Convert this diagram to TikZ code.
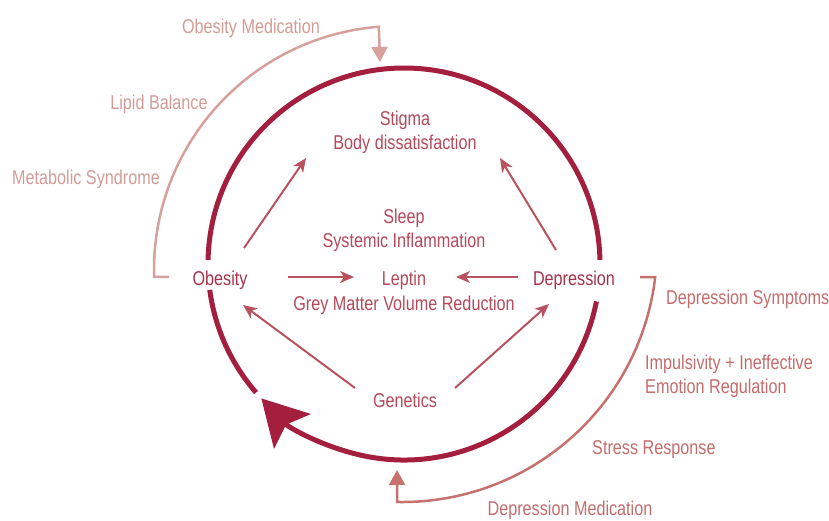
\documentclass[tikz,border=0pt]{standalone}
\usepackage{fontspec}
\setmainfont{Liberation Sans}[FakeStretch=0.81]
\usetikzlibrary{arrows.meta,calc}
\definecolor{ring}{HTML}{A31F3D}
\definecolor{maintxt}{HTML}{A8304A}
\definecolor{innertxt}{HTML}{B5485A}
\definecolor{innerarr}{HTML}{B8525E}
\definecolor{leftout}{HTML}{D6A19D}
\definecolor{lefttxt}{HTML}{D39B97}
\definecolor{rightout}{HTML}{C7716F}
\definecolor{righttxt}{HTML}{C46C6C}
\tikzset{
  lbl/.style={inner sep=0pt, font=\fontsize{20}{24}\selectfont, align=center},
  mainlbl/.style={lbl, text=maintxt},
  innerlbl/.style={lbl, text=innertxt},
  leftlbl/.style={lbl, text=lefttxt},
  rightlbl/.style={lbl, text=righttxt, align=left},
  arr/.style={draw=innerarr, line width=2pt, -{Stealth[length=14pt,width=12pt,inset=4pt]}},
  ringline/.style={draw=ring, line width=5pt},
  outarrL/.style={draw=leftout, line width=2.5pt, -{Triangle[length=15pt,width=16pt]}},
  outarrR/.style={draw=rightout, line width=2.5pt, -{Triangle[length=15pt,width=16pt]}},
}
\begin{document}
\begin{tikzpicture}[x=1pt,y=1pt]
\useasboundingbox (0,0) rectangle (829,520);
\coordinate (c) at (404,256);
% main ring
\draw[ringline] ($(c)+(1.2:196)$) arc[start angle=1.2, end angle=178.8, radius=196];
\draw[ringline] ($(c)+(187.6:196)$) arc[start angle=187.6, end angle=221, radius=196];
\draw[ringline, -{Stealth[length=45pt,width=50pt,inset=9pt]}] ($(c)+(-11:196)$) arc[start angle=-11, end angle=-136.7, radius=196];

% nodes
\node[mainlbl] (obesity) at (220,240) {Obesity};
\node[mainlbl] (depression) at (574,240) {Depression};
\node[innerlbl] (stigma) at (405,388) {Stigma\\Body dissatisfaction};
\node[innerlbl] (sleep) at (404,289.5) {Sleep\\Systemic Inflammation};
\node[innerlbl] (leptin) at (404,240) {Leptin};
\node[innerlbl] (grey) at (404,215) {Grey Matter Volume Reduction};
\node[innerlbl] (genetics) at (405,120) {Genetics};

\node[leftlbl] (omed) at (251,492) {Obesity Medication};
\node[leftlbl] (lipid) at (159,416) {Lipid Balance};
\node[leftlbl] (metab) at (86,341) {Metabolic Syndrome};

\node[rightlbl, anchor=west] (dsym) at (666,221) {Depression Symptoms};
\node[rightlbl, anchor=west] (impul) at (645,144) {Impulsivity + Ineffective\\Emotion Regulation};
\node[rightlbl, anchor=west] (stress) at (592,70) {Stress Response};
\node[rightlbl, align=center] (dmed) at (570,9.5) {Depression Medication};

% inner arrows
\draw[arr] ($(obesity)+(24,32)$) -- ($(stigma)+(-99,-26)$);
\draw[arr] ($(depression)+(-18,30)$) -- ($(stigma)+(95,-26)$);
\draw[arr] ($(obesity)+(68,3)$) -- ($(leptin)+(-50,3)$);
\draw[arr] ($(depression)+(-56,3)$) -- ($(leptin)+(52,3)$);
\draw[arr] ($(genetics)+(-50,12)$) -- ($(obesity)+(23,-25)$);
\draw[arr] ($(genetics)+(50,12)$) -- ($(depression)+(-25,-24)$);

% outer feedback arcs
\coordinate (obr) at (169,243.2);
\coordinate (omtip) at (380,458);
\draw[outarrL] (obr) -- ++(-14.9,0) arc[start angle=181.6, end angle=94.5, radius=244] -- (omtip);

\coordinate (dbr) at (640,242.8);
\coordinate (dmtip) at (397,50);
\draw[outarrR] (dbr) -- ++(15.2,0) arc[start angle=-6.8, end angle=-91.1, radius=255] -- (dmtip);
\end{tikzpicture}
\end{document}
